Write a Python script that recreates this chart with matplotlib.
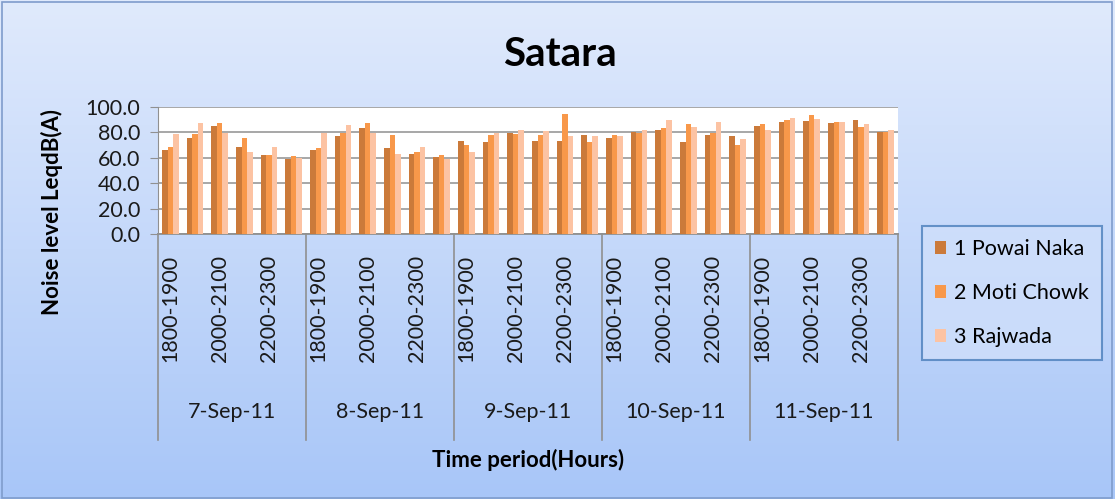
import numpy as np
import matplotlib
matplotlib.use("Agg")
import matplotlib.pyplot as plt
from matplotlib.colors import LinearSegmentedColormap
from matplotlib.patches import Rectangle

plt.rcParams['font.family'] = ['Lato', 'DejaVu Sans']

days = ['7-Sep-11', '8-Sep-11', '9-Sep-11', '10-Sep-11', '11-Sep-11']
slots = ['1800-1900', '1900-2000', '2000-2100', '2100-2200', '2200-2300', '2300-2400']

# noise level per day, six time slots each
powai_naka = [66.0, 75.7, 84.7, 68.6, 62.5, 58.8,
              66.0, 76.8, 83.6, 67.8, 63.3, 60.4,
              73.1, 72.3, 79.2, 73.1, 73.1, 77.6,
              75.7, 80.5, 82.1, 72.3, 77.6, 76.8,
              84.7, 88.4, 89.2, 87.3, 89.4, 80.5]
moti_chowk = [68.6, 78.4, 87.3, 75.7, 62.5, 61.7,
              67.8, 79.2, 87.3, 77.6, 64.9, 62.5,
              70.4, 77.6, 78.4, 77.6, 94.5, 72.3,
              77.6, 79.2, 83.1, 86.5, 79.2, 70.4,
              86.3, 90.0, 93.7, 88.1, 83.9, 80.5]
rajwada = [78.4, 87.3, 79.4, 64.9, 68.6, 59.9,
           79.2, 85.5, 79.2, 63.3, 68.9, 58.8,
           64.4, 79.2, 82.3, 81.5, 76.8, 76.8,
           76.8, 82.3, 89.4, 83.9, 88.4, 75.2,
           82.1, 91.0, 90.2, 88.1, 86.3, 82.1]

series = [('1 Powai Naka', powai_naka, '#CB7A3A'),
          ('2 Moti Chowk', moti_chowk, '#F8984A'),
          ('3 Rajwada', rajwada, '#FCC3A3')]

fs = 15.5  # base font size
txt = '#1a1a1a'

fig = plt.figure(figsize=(11.15, 4.99), dpi=100)

# gradient background
bg = fig.add_axes([0, 0, 1, 1], zorder=-10)
cmap = LinearSegmentedColormap.from_list('bg', ['#a8c6f8', '#e0eafc'])
bg.imshow(np.linspace(0, 1, 256).reshape(-1, 1)[::-1], aspect='auto',
          cmap=cmap, extent=[0, 1, 0, 1])
bg.axis('off')
fig.patches.append(Rectangle((0.002, 0.003), 0.995, 0.993, transform=fig.transFigure,
                             fill=False, edgecolor='#7f9ccc', linewidth=1.2))

ax = fig.add_axes([0.1417, 0.531, 0.6637, 0.2545])
ax.set_facecolor('white')

x = np.arange(len(powai_naka))
w = 0.225
for i, (name, vals, col) in enumerate(series):
    ax.bar(x + (i - 1) * w, vals, w, color=col, label=name, linewidth=0, zorder=3)

ax.set_xlim(-0.5, len(x) - 0.5)
ax.set_ylim(0, 100)
ax.set_yticks(range(0, 101, 20))
ax.set_yticklabels([f'{v:.1f}' for v in range(0, 101, 20)], fontsize=fs, color=txt)
ax.yaxis.grid(True, color='#a0a0a0', linewidth=1.3)
ax.set_axisbelow(True)
ax.tick_params(axis='y', direction='out', length=6, color='#909090', pad=7)

tick_pos = [i for i in x if i % 2 == 0]
ax.set_xticks(tick_pos)
ax.set_xticklabels([slots[i % 6] for i in tick_pos], rotation=90, fontsize=fs,
                   color=txt, va='top')
ax.tick_params(axis='x', length=0, pad=15)

for s in ['top', 'right']:
    ax.spines[s].set_visible(False)
ax.spines['left'].set_color('#909090')
ax.spines['bottom'].set_color('#909090')
ax.spines['bottom'].set_linewidth(1.3)

# day separators and day labels below the time slot labels
trans = ax.get_xaxis_transform()
for d in range(len(days) + 1):
    xs = d * 6 - 0.5
    ax.plot([xs, xs], [0, -1.62], transform=trans, color='#909090',
            linewidth=1.2, clip_on=False)
for d, day in enumerate(days):
    ax.text(d * 6 + 2.5, -1.40, day, transform=trans, ha='center', va='center',
            fontsize=fs, color=txt)

fig.text(0.502, 0.89, 'Satara', ha='center', va='center', fontsize=29, fontweight='bold')
fig.text(0.4735, 0.078, 'Time period(Hours)', ha='center', va='center',
         fontsize=16, fontweight='bold')
fig.text(0.0466, 0.575, 'Noise level LeqdB(A)', ha='center', va='center',
         rotation=90, fontsize=16, fontweight='bold')

leg = fig.legend(loc='upper left', bbox_to_anchor=(0.827, 0.547), fontsize=fs,
                 frameon=True, fancybox=False, handlelength=0.52, handleheight=0.52,
                 handletextpad=0.35, labelspacing=1.12, borderpad=0.6, borderaxespad=0)
leg.get_frame().set_facecolor('#cfdffb')
leg.get_frame().set_edgecolor('#4a7ebb')
leg.get_frame().set_linewidth(1.5)

fig.savefig('out.png', dpi=100)
